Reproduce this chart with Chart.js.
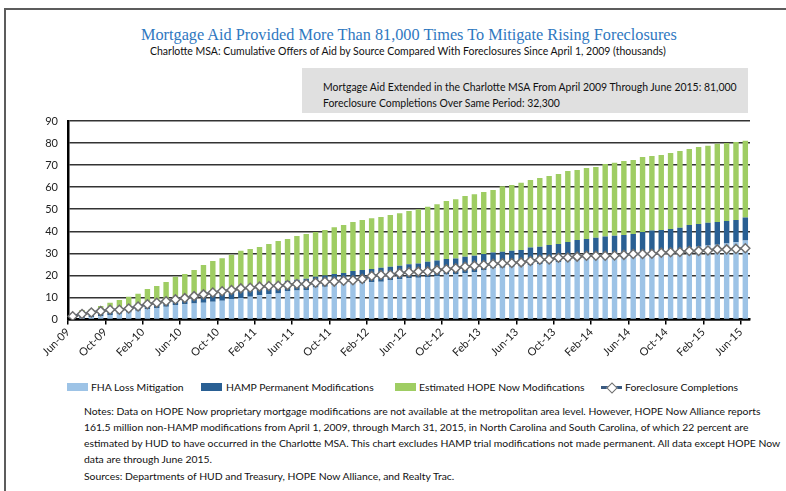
<!DOCTYPE html>
<html>
<head>
<meta charset="utf-8">
<script src="https://cdn.jsdelivr.net/npm/chart.js@4.4.1/dist/chart.umd.min.js"></script>
<style>
  body { margin: 0; width: 786px; height: 491px; overflow: hidden; background: #fff; position: relative; font-family: Lato, sans-serif; color: #111; }
  .frame-top { position: absolute; left: 4px; top: 8px; right: 0; height: 2px; background: #5c5c5c; }
  .frame-left { position: absolute; left: 4px; top: 8px; width: 2px; bottom: 0; background: #5c5c5c; }
  .t { position: absolute; white-space: nowrap; line-height: 1.2; }
  #title { font-family: "Liberation Serif", serif; color: #2f78bf; }
  #box { position: absolute; left: 302px; top: 68px; width: 446px; height: 45px; background: #e0e0e0; }
  #chart { position: absolute; left: 0; top: 100px; }
  .sw { position: absolute; height: 8px; }
</style>
</head>
<body>
<div class="frame-top"></div>
<div class="frame-left"></div>

<div id="title" class="t">Mortgage Aid Provided More Than 81,000 Times To Mitigate Rising Foreclosures</div>
<div id="subtitle" class="t">Charlotte MSA: Cumulative Offers of Aid by Source Compared With Foreclosures Since April 1, 2009 (thousands)</div>

<div id="box"></div>
<div id="box1" class="t">Mortgage Aid Extended in the Charlotte MSA From April 2009 Through June 2015: 81,000</div>
<div id="box2" class="t">Foreclosure Completions Over Same Period: 32,300</div>

<canvas id="chart" width="786" height="280"></canvas>

<div id="legend"></div>

<div id="note1" class="t">Notes: Data on HOPE Now proprietary mortgage modifications are not available at the metropolitan area level. However, HOPE Now Alliance reports</div>
<div id="note2" class="t">161.5 million non-HAMP modifications from April 1, 2009, through March 31, 2015, in North Carolina and South Carolina, of which 22 percent are</div>
<div id="note3" class="t">estimated by HUD to have occurred in the Charlotte MSA. This chart excludes HAMP trial modifications not made permanent. All data except HOPE Now</div>
<div id="note4" class="t">data are through June 2015.</div>
<div id="sources" class="t">Sources: Departments of HUD and Treasury, HOPE Now Alliance, and Realty Trac.</div>

<script>
// monthly categories, Jun-09 .. Jun-15
const months = [
  'Jun-09','Jul-09','Aug-09','Sep-09','Oct-09','Nov-09','Dec-09',
  'Jan-10','Feb-10','Mar-10','Apr-10','May-10','Jun-10','Jul-10','Aug-10','Sep-10','Oct-10','Nov-10','Dec-10',
  'Jan-11','Feb-11','Mar-11','Apr-11','May-11','Jun-11','Jul-11','Aug-11','Sep-11','Oct-11','Nov-11','Dec-11',
  'Jan-12','Feb-12','Mar-12','Apr-12','May-12','Jun-12','Jul-12','Aug-12','Sep-12','Oct-12','Nov-12','Dec-12',
  'Jan-13','Feb-13','Mar-13','Apr-13','May-13','Jun-13','Jul-13','Aug-13','Sep-13','Oct-13','Nov-13','Dec-13',
  'Jan-14','Feb-14','Mar-14','Apr-14','May-14','Jun-14','Jul-14','Aug-14','Sep-14','Oct-14','Nov-14','Dec-14',
  'Jan-15','Feb-15','Mar-15','Apr-15','May-15','Jun-15'
];

// thousands, cumulative
const fhaLossMitigation = [
  0.3, 0.7, 1.1, 1.5, 2.0, 2.6, 3.2, 4.0, 4.8, 5.2,
  5.8, 6.6, 6.9, 7.2, 7.6, 8.1, 8.5, 9.3, 9.8, 10.3,
  11.0, 11.4, 11.8, 12.9, 13.1, 13.4, 14.5, 14.9, 15.6, 16.1,
  16.4, 16.6, 16.9, 17.1, 17.9, 18.2, 18.7, 18.9, 19.3, 19.7,
  20.4, 20.6, 21.0, 21.4, 22.4, 23.2, 23.5, 23.9, 24.1, 24.7,
  25.2, 25.5, 26.0, 26.5, 27.0, 27.5, 28.0, 28.4, 28.8, 29.2,
  29.6, 30.0, 30.4, 30.8, 31.2, 31.7, 32.5, 33.0, 33.6, 33.9,
  34.5, 35.0, 35.8
];
const hampPermanent = [
  1.2, 1.1, 1.1, 1.1, 1.2, 1.2, 1.4, 2.0, 2.5, 2.7,
  2.7, 3.0, 3.4, 3.6, 3.6, 3.7, 3.8, 3.7, 3.8, 3.9,
  4.0, 4.1, 4.6, 4.6, 4.9, 5.1, 4.9, 5.0, 5.0, 5.0,
  5.6, 5.8, 6.0, 6.4, 6.0, 6.2, 6.3, 6.5, 6.9, 7.0,
  7.0, 7.1, 7.5, 7.5, 7.3, 7.2, 7.2, 7.3, 7.4, 7.9,
  7.8, 8.3, 8.2, 8.6, 9.0, 9.0, 9.1, 9.2, 9.2, 9.1,
  9.2, 9.7, 9.9, 9.8, 9.8, 9.9, 10.4, 10.3, 10.3, 10.3,
  10.2, 10.1, 10.4
];
const hopeNowEstimated = [
  0.0, 2.5, 2.5, 3.5, 4.4, 5.0, 5.7, 5.7, 6.5, 7.3,
  8.5, 9.8, 10.3, 11.6, 13.5, 14.7, 15.5, 16.4, 17.6, 17.8,
  17.9, 18.7, 19.2, 19.0, 19.9, 20.3, 20.3, 20.7, 21.2, 21.8,
  22.2, 22.7, 23.0, 23.0, 23.5, 23.8, 24.2, 24.6, 24.9, 25.5,
  26.3, 26.8, 27.5, 27.9, 28.1, 28.3, 29.7, 29.8, 30.5, 30.6,
  31.1, 31.3, 31.8, 32.2, 31.8, 32.2, 32.1, 32.9, 33.1, 33.6,
  33.5, 34.0, 33.8, 34.0, 34.5, 34.8, 34.4, 34.9, 34.9, 35.5,
  35.3, 35.4, 34.8
];
const foreclosureCompletions = [
  1.5, 2.5, 3.2, 3.8, 4.4, 4.4, 5.0, 5.9, 6.9, 7.6,
  8.3, 9.1, 9.7, 10.6, 11.4, 12.2, 12.8, 13.4, 14.1, 14.4,
  14.9, 15.2, 15.3, 15.6, 16.1, 16.1, 16.7, 17.1, 17.2, 17.6,
  17.8, 18.4, 19.7, 20.2, 20.3, 21.0, 21.4, 21.7, 21.8, 22.4,
  22.8, 23.2, 23.9, 24.4, 24.7, 25.2, 25.5, 25.6, 25.9, 26.5,
  27.1, 27.2, 28.0, 28.1, 28.5, 28.9, 28.9, 28.9, 29.0, 29.3,
  29.7, 29.7, 29.8, 30.3, 30.5, 30.6, 31.1, 31.1, 31.3, 31.8,
  31.8, 32.0, 32.3
];

const colors = {
  fha: '#9dc3e6',
  hamp: '#295f93',
  hope: '#9fcd63',
  line: '#3a5a80'
};

// text placement: fit text to a target width, centre it vertically on cy
function place(id, left, cy, width, size) {
  const el = document.getElementById(id);
  if (width) {
    el.style.fontSize = '20px';
    const w = el.getBoundingClientRect().width;
    size = 20 * width / w;
  }
  el.style.fontSize = size + 'px';
  el.style.left = left + 'px';
  el.style.top = (cy - size * 0.6) + 'px';
  return size;
}

function layoutText() {
  place('title', 141, 36, 536);
  place('subtitle', 150, 51, 516);
  const bs = place('box1', 323, 87, 414);
  place('box2', 323, 103, 0, bs);
  const ns = place('note1', 84, 411, 678);
  place('note2', 84, 427, 0, ns);
  place('note3', 84, 443, 0, ns);
  place('note4', 84, 459, 0, ns);
  place('sources', 84, 476, 0, ns);

  const legend = document.getElementById('legend');
  const items = [
    { text: 'FHA Loss Mitigation', color: colors.fha, sx: 67, tx: 91 },
    { text: 'HAMP Permanent Modifications', color: colors.hamp, sx: 201, tx: 226 },
    { text: 'Estimated HOPE Now Modifications', color: colors.hope, sx: 395, tx: 419 },
    { text: 'Foreclosure Completions', line: true, sx: 601, tx: 625 }
  ];
  items.forEach((it, i) => {
    if (it.line) {
      const l = document.createElement('div');
      l.className = 'sw';
      l.style.cssText = `left:${it.sx}px;top:386px;width:21px;height:2.5px;background:${colors.line}`;
      legend.appendChild(l);
      const d = document.createElement('div');
      d.className = 'sw';
      d.style.cssText = `left:${it.sx + 7}px;top:383.5px;width:6px;height:6px;background:#fff;border:1.3px solid #6f6f6f;transform:rotate(45deg)`;
      legend.appendChild(d);
    } else {
      const s = document.createElement('div');
      s.className = 'sw';
      s.style.cssText = `left:${it.sx}px;top:383px;width:21px;background:${it.color}`;
      legend.appendChild(s);
    }
    const t = document.createElement('div');
    t.className = 't';
    t.id = 'leg' + i;
    t.textContent = it.text;
    legend.appendChild(t);
    place(t.id, it.tx, 387, 0, ns);
  });
}
layoutText();

const barCommon = { stack: 'aid', order: 1, barPercentage: 0.58, categoryPercentage: 1, borderWidth: 0 };

new Chart(document.getElementById('chart'), {
  type: 'bar',
  data: {
    labels: months,
    datasets: [
      { label: 'FHA Loss Mitigation', data: fhaLossMitigation, backgroundColor: colors.fha, ...barCommon },
      { label: 'HAMP Permanent Modifications', data: hampPermanent, backgroundColor: colors.hamp, ...barCommon },
      { label: 'Estimated HOPE Now Modifications', data: hopeNowEstimated, backgroundColor: colors.hope, ...barCommon },
      {
        type: 'line',
        label: 'Foreclosure Completions',
        data: foreclosureCompletions,
        stack: 'fc',
        order: 0,
        borderColor: colors.line,
        borderWidth: 2.5,
        tension: 0,
        pointStyle: 'rectRot',
        pointRadius: 4.5,
        pointBackgroundColor: '#fff',
        pointBorderColor: '#6f6f6f',
        pointBorderWidth: 1.5
      }
    ]
  },
  options: {
    responsive: false,
    animation: false,
    layout: { padding: { left: 0, right: 36, top: 21, bottom: 0 } },
    plugins: { legend: { display: false }, tooltip: { enabled: false } },
    scales: {
      x: {
        stacked: true,
        offset: true,
        grid: {
          offset: true,
          drawOnChartArea: false,
          drawTicks: true,
          tickLength: 5,
          lineWidth: 1.5,
          color: c => (c.index % 4 === 0 ? '#000' : 'rgba(0,0,0,0)')
        },
        border: { color: '#000', width: 2.5 },
        ticks: {
          autoSkip: false,
          maxRotation: 45,
          minRotation: 45,
          labelOffset: -4.7,
          padding: 1,
          color: '#222',
          font: { family: 'Lato', size: 11 },
          callback: (v, i) => (i % 4 === 0 ? months[i] : '')
        },
        afterFit: s => { s.height = 60.5; }
      },
      y: {
        stacked: true,
        min: 0,
        max: 90,
        ticks: { stepSize: 10, padding: 10, color: '#222', font: { family: 'Lato', size: 11 } },
        grid: { color: '#333', lineWidth: 1.5, drawTicks: false },
        border: { color: '#000', width: 2.5 },
        afterFit: s => { s.width = 68; }
      }
    }
  }
});
</script>
</body>
</html>
